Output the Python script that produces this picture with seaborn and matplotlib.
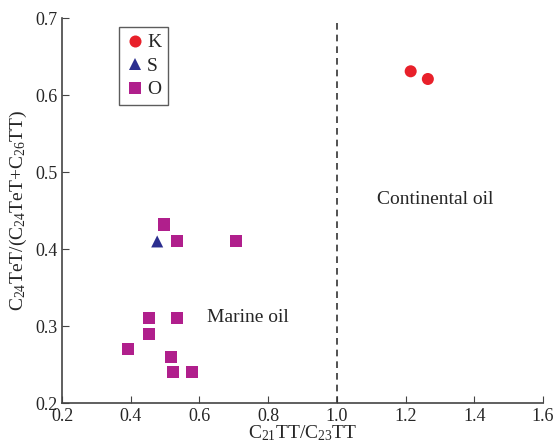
import matplotlib
matplotlib.use("Agg")
import matplotlib.pyplot as plt
import seaborn as sns
import pandas as pd

k_x = [1.215, 1.265]
k_y = [0.631, 0.621]
s_x = [0.477]
s_y = [0.410]
o_x = [0.496, 0.535, 0.706, 0.453, 0.535, 0.453, 0.392, 0.516, 0.524, 0.578]
o_y = [0.432, 0.411, 0.411, 0.311, 0.311, 0.290, 0.270, 0.260, 0.240, 0.240]

groups = ["K", "S", "O"]
df = pd.DataFrame({
    "x": k_x + s_x + o_x,
    "y": k_y + s_y + o_y,
    "g": ["K"] * len(k_x) + ["S"] * len(s_x) + ["O"] * len(o_x),
})

sns.set_style("ticks")
plt.rcParams["font.family"] = ["Liberation Serif", "DejaVu Serif"]
plt.rcParams["mathtext.fontset"] = "custom"
plt.rcParams["mathtext.rm"] = "Liberation Serif"
plt.rcParams["mathtext.it"] = "Liberation Serif"

fig = plt.figure(figsize=(5.54, 4.43), dpi=100)
ax = fig.add_axes([0.112, 0.090, 0.868, 0.869])

palette = {"K": "#e8202a", "S": "#2b2e8f", "O": "#b01f8c"}
markers = {"K": "o", "S": "^", "O": "s"}
sns.scatterplot(data=df, x="x", y="y", hue="g", style="g", hue_order=groups,
                style_order=groups, palette=palette, markers=markers,
                s=75, linewidth=0, ax=ax)

ax.axvline(1.0, color="#333333", linestyle=(0, (4, 3)), linewidth=1.2)

ax.set_xlim(0.2, 1.6)
ax.set_ylim(0.2, 0.7)
ax.set_xticks([0.2, 0.4, 0.6, 0.8, 1.0, 1.2, 1.4, 1.6])
ax.set_yticks([0.2, 0.3, 0.4, 0.5, 0.6, 0.7])
ax.set_xticklabels(["0.2", "0.4", "0.6", "0.8", "1.0", "1.2", "1.4", "1.6"])
ax.set_yticklabels(["0.2", "0.3", "0.4", "0.5", "0.6", "0.7"])
ax.tick_params(direction="in", length=5, labelsize=13, color="#444444")
for side in ["top", "right"]:
    ax.spines[side].set_visible(False)
for side in ["left", "bottom"]:
    ax.spines[side].set_color("#444444")
    ax.spines[side].set_linewidth(1.2)

ax.set_xlabel("C$_{21}$TT/C$_{23}$TT", fontsize=14, labelpad=-1)
ax.set_ylabel("C$_{24}$TeT/(C$_{24}$TeT+C$_{26}$TT)", fontsize=14, labelpad=4)

ax.text(0.74, 0.311, "Marine oil", fontsize=14, ha="center", va="center")
ax.text(1.285, 0.464, "Continental oil", fontsize=14, ha="center", va="center")

leg = ax.legend(loc="upper left", bbox_to_anchor=(0.118, 0.977), frameon=True,
                fancybox=False, edgecolor="#333333", fontsize=14,
                handletextpad=0.1, borderpad=0.35, labelspacing=0.3,
                handlelength=1.0, markerscale=1.0, borderaxespad=0)
leg.get_frame().set_linewidth(1.0)
leg.set_title(None)

fig.savefig("out.png", dpi=100)
